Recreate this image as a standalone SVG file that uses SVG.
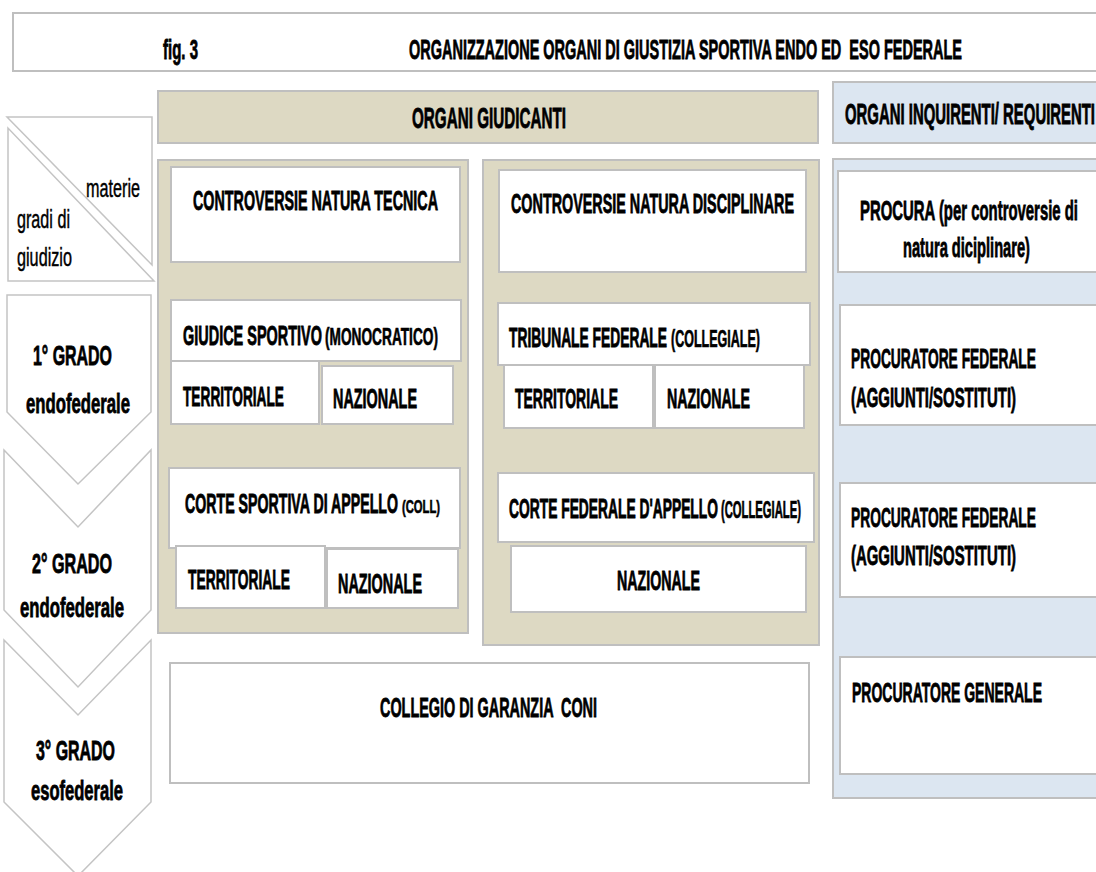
<svg xmlns="http://www.w3.org/2000/svg" width="1096" height="872" viewBox="0 0 1096 872">
<style>
text { font-family: "Liberation Sans", Arial, sans-serif; fill: #000; white-space: pre; }
.b { font-weight: bold; font-size: 15.5px; stroke: #000; stroke-width: 0.45; }
.h { font-weight: bold; font-size: 16.5px; stroke: #000; stroke-width: 0.45; }
.r { font-weight: normal; font-size: 14px; stroke: #000; stroke-width: 0.25; }
.s { font-weight: bold; font-size: 12.8px; stroke: #000; stroke-width: 0.35; }
.xs { font-weight: bold; font-size: 10.5px; stroke: #000; stroke-width: 0.35; }
.box { fill: #ffffff; stroke: #bfbfbf; stroke-width: 2; }
.tan { fill: #ddd9c3; stroke: #bfbfbf; stroke-width: 2; }
.blue { fill: #dce6f1; stroke: #bfbfbf; stroke-width: 2; }
.chev { fill: #ffffff; stroke: #c4c4c4; stroke-width: 1.5; }
</style>
<rect width="1096" height="872" fill="#ffffff"/>

<g id="header">
<rect class="box" x="13" y="13" width="1095" height="58"/>
<text class="b" transform="translate(163,59) scale(1,1.8)" textLength="35" lengthAdjust="spacingAndGlyphs">fig. 3</text>
<text class="b" transform="translate(409,59) scale(1,1.8)" textLength="553" lengthAdjust="spacingAndGlyphs">ORGANIZZAZIONE ORGANI DI GIUSTIZIA SPORTIVA ENDO ED  ESO FEDERALE</text>
</g>

<g id="organi-giudicanti">
<rect class="tan" x="158" y="91" width="660" height="52"/>
<text class="h" transform="translate(412,128) scale(1,1.8)" textLength="154" lengthAdjust="spacingAndGlyphs">ORGANI GIUDICANTI</text>
</g>

<g id="organi-inquirenti">
<rect class="blue" x="833" y="82" width="270" height="61"/>
<text class="h" style="font-size:14.8px" transform="translate(845,124) scale(1,2)" textLength="250" lengthAdjust="spacingAndGlyphs">ORGANI INQUIRENTI/ REQUIRENTI</text>
</g>

<g id="matrix-header">
<polygon class="chev" points="7,117 152,117 152,265"/>
<polygon class="chev" points="8,128 8,281 154,281"/>
<text class="r" transform="translate(86,197) scale(1,1.8)" textLength="54" lengthAdjust="spacingAndGlyphs">materie</text>
<text class="r" transform="translate(17,228) scale(1,1.8)" textLength="53" lengthAdjust="spacingAndGlyphs">gradi di</text>
<text class="r" transform="translate(17,266) scale(1,1.8)" textLength="55" lengthAdjust="spacingAndGlyphs">giudizio</text>
</g>

<g id="grado-1">
<polygon class="chev" points="7,295 151,295 151,412 78,484 7,412"/>
<text class="b" transform="translate(33,365) scale(1,1.8)" textLength="79" lengthAdjust="spacingAndGlyphs">1° GRADO</text>
<text class="b" transform="translate(26,413) scale(1,1.8)" textLength="104" lengthAdjust="spacingAndGlyphs">endofederale</text>
</g>

<g id="grado-2">
<polygon class="chev" points="4,450 78,527 151,450 151,610 78,687 4,610"/>
<text class="b" transform="translate(32,573) scale(1,1.8)" textLength="80" lengthAdjust="spacingAndGlyphs">2° GRADO</text>
<text class="b" transform="translate(20,617) scale(1,1.8)" textLength="104" lengthAdjust="spacingAndGlyphs">endofederale</text>
</g>

<g id="grado-3">
<polygon class="chev" points="4,640 78,715 151,640 151,802 78,876 4,802"/>
<text class="b" transform="translate(36,760) scale(1,1.8)" textLength="79" lengthAdjust="spacingAndGlyphs">3° GRADO</text>
<text class="b" transform="translate(31,800) scale(1,1.8)" textLength="92" lengthAdjust="spacingAndGlyphs">esofederale</text>
</g>

<g id="panel-tecnica">
<rect class="tan" x="158" y="160" width="310" height="473"/>
</g>

<g id="controversie-tecnica">
<rect class="box" x="171" y="167" width="289" height="95"/>
<text class="b" transform="translate(193,210) scale(1,1.8)" textLength="245" lengthAdjust="spacingAndGlyphs">CONTROVERSIE NATURA TECNICA</text>
</g>

<g id="giudice-sportivo">
<rect class="box" x="171" y="300" width="290" height="61"/>
<text class="b" style="font-size:14.4px" transform="translate(183,345) scale(1,1.94)" textLength="139" lengthAdjust="spacingAndGlyphs">GIUDICE SPORTIVO</text>
<text class="s" transform="translate(325,345) scale(1,1.8)" textLength="113" lengthAdjust="spacingAndGlyphs">(MONOCRATICO)</text>
</g>
<g id="gs-territoriale">
<rect class="box" x="171" y="361" width="148" height="63"/>
<text class="b" transform="translate(183,406) scale(1,1.8)" textLength="101" lengthAdjust="spacingAndGlyphs">TERRITORIALE</text>
</g>
<g id="gs-nazionale">
<rect class="box" x="322" y="366" width="131" height="58"/>
<text class="b" transform="translate(333,408) scale(1,1.8)" textLength="84" lengthAdjust="spacingAndGlyphs">NAZIONALE</text>
</g>

<g id="corte-sportiva">
<rect class="box" x="169" y="468" width="291" height="80"/>
<text class="b" style="font-size:14px" transform="translate(185,513) scale(1,2)" textLength="213" lengthAdjust="spacingAndGlyphs">CORTE SPORTIVA DI APPELLO</text>
<text class="xs" transform="translate(402,513) scale(1,1.8)" textLength="38" lengthAdjust="spacingAndGlyphs">(COLL)</text>
</g>
<g id="cs-territoriale">
<rect class="box" x="176" y="546" width="149" height="62"/>
<text class="b" transform="translate(188,589) scale(1,1.8)" textLength="102" lengthAdjust="spacingAndGlyphs">TERRITORIALE</text>
</g>
<g id="cs-nazionale">
<rect class="box" x="327" y="549" width="131" height="59"/>
<text class="b" transform="translate(338,593) scale(1,1.8)" textLength="84" lengthAdjust="spacingAndGlyphs">NAZIONALE</text>
</g>

<g id="panel-disciplinare">
<rect class="tan" x="483" y="160" width="336" height="485"/>
</g>

<g id="controversie-disciplinare">
<rect class="box" x="499" y="170" width="307" height="102"/>
<text class="b" transform="translate(511,213) scale(1,1.8)" textLength="283" lengthAdjust="spacingAndGlyphs">CONTROVERSIE NATURA DISCIPLINARE</text>
</g>

<g id="tribunale-federale">
<rect class="box" x="498" y="303" width="312" height="62"/>
<text class="b" style="font-size:13.8px" transform="translate(509,347) scale(1,2.02)" textLength="158" lengthAdjust="spacingAndGlyphs">TRIBUNALE FEDERALE</text>
<text class="s" style="font-size:12.2px" transform="translate(671,347) scale(1,1.89)" textLength="89" lengthAdjust="spacingAndGlyphs">(COLLEGIALE)</text>
</g>
<g id="tf-territoriale">
<rect class="box" x="504" y="365" width="149" height="63"/>
<text class="b" transform="translate(515,408) scale(1,1.8)" textLength="103" lengthAdjust="spacingAndGlyphs">TERRITORIALE</text>
</g>
<g id="tf-nazionale">
<rect class="box" x="655" y="365" width="149" height="63"/>
<text class="b" transform="translate(667,408) scale(1,1.8)" textLength="83" lengthAdjust="spacingAndGlyphs">NAZIONALE</text>
</g>

<g id="corte-federale">
<rect class="box" x="498" y="473" width="316" height="69"/>
<text class="b" style="font-size:13.6px" transform="translate(509,518) scale(1,2.05)" textLength="209" lengthAdjust="spacingAndGlyphs">CORTE FEDERALE D'APPELLO</text>
<text class="s" style="font-size:11px" transform="translate(721,518) scale(1,2.1)" textLength="80" lengthAdjust="spacingAndGlyphs">(COLLEGIALE)</text>
</g>
<g id="cf-nazionale">
<rect class="box" x="511" y="546" width="295" height="66"/>
<text class="b" transform="translate(617,590) scale(1,1.8)" textLength="83" lengthAdjust="spacingAndGlyphs">NAZIONALE</text>
</g>

<g id="collegio-garanzia">
<rect class="box" x="170" y="663" width="639" height="120"/>
<text class="b" transform="translate(380,717) scale(1,1.8)" textLength="217" lengthAdjust="spacingAndGlyphs">COLLEGIO DI GARANZIA  CONI</text>
</g>

<g id="panel-inquirenti">
<rect class="blue" x="833" y="159" width="270" height="639"/>
</g>

<g id="procura">
<rect class="box" x="838" y="171" width="265" height="101"/>
<text class="b" transform="translate(860,220) scale(1,1.8)" textLength="218" lengthAdjust="spacingAndGlyphs">PROCURA (per controversie di</text>
<text class="b" transform="translate(903,257) scale(1,1.8)" textLength="127" lengthAdjust="spacingAndGlyphs">natura diciplinare)</text>
</g>

<g id="procuratore-federale-1">
<rect class="box" x="840" y="305" width="263" height="120"/>
<text class="b" transform="translate(851,368) scale(1,1.8)" textLength="185" lengthAdjust="spacingAndGlyphs">PROCURATORE FEDERALE</text>
<text class="b" transform="translate(851,407) scale(1,1.8)" textLength="165" lengthAdjust="spacingAndGlyphs">(AGGIUNTI/SOSTITUTI)</text>
</g>

<g id="procuratore-federale-2">
<rect class="box" x="840" y="483" width="263" height="114"/>
<text class="b" transform="translate(851,527) scale(1,1.8)" textLength="185" lengthAdjust="spacingAndGlyphs">PROCURATORE FEDERALE</text>
<text class="b" transform="translate(851,565) scale(1,1.8)" textLength="165" lengthAdjust="spacingAndGlyphs">(AGGIUNTI/SOSTITUTI)</text>
</g>

<g id="procuratore-generale">
<rect class="box" x="840" y="657" width="263" height="117"/>
<text class="b" transform="translate(852,702) scale(1,1.8)" textLength="190" lengthAdjust="spacingAndGlyphs">PROCURATORE GENERALE</text>
</g>

<g id="connectors"></g>
</svg>
